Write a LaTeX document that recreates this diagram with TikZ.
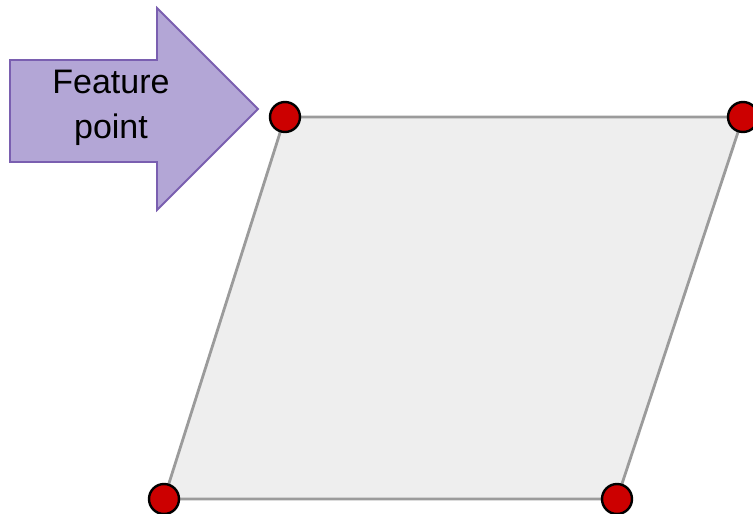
\documentclass[tikz,border=0pt]{standalone}
\usepackage{xcolor}
\usepackage{fontspec}
\setmainfont{Liberation Sans}
\definecolor{edgegray}{RGB}{155,155,155}
\definecolor{facegray}{RGB}{238,238,238}
\definecolor{dotred}{RGB}{204,0,0}
\definecolor{arrowfill}{RGB}{179,166,214}
\definecolor{arrowline}{RGB}{122,95,176}
\usetikzlibrary{positioning}
\tikzset{
  corner/.style={circle, fill=dotred, draw=black, line width=2.4pt, minimum size=30pt, inner sep=0pt},
  edge/.style={draw=edgegray, line width=2.8pt},
}
\begin{document}
\begin{tikzpicture}[x=1pt, y=-1pt]
\useasboundingbox (0,0) rectangle (753,514);
% parallelogram corners
\foreach \name/\px/\py in {tl/285/117, tr/743/117, br/617/499, bl/164/499}{
    \coordinate (\name) at (\px,\py);
}
\fill[facegray] (tl) -- (tr) -- (br) -- (bl) -- cycle;
\draw[edge] (tl) -- (tr) -- (br) -- (bl) -- cycle;
\foreach \name in {tl,tr,br,bl}{
    \node[corner] (dot-\name) at (\name) {};
}
% arrow pointing at the feature point
\draw[fill=arrowfill, draw=arrowline, line width=1.8pt, line join=miter]
    (10,60) -- (157,60) -- (157,8) -- (258,109) -- (157,210) -- (157,162) -- (10,162) -- cycle;
\node[font=\fontsize{34}{45}\selectfont, align=center, inner sep=0pt] (label) at (111,108) {Feature\\point};
\end{tikzpicture}
\end{document}
